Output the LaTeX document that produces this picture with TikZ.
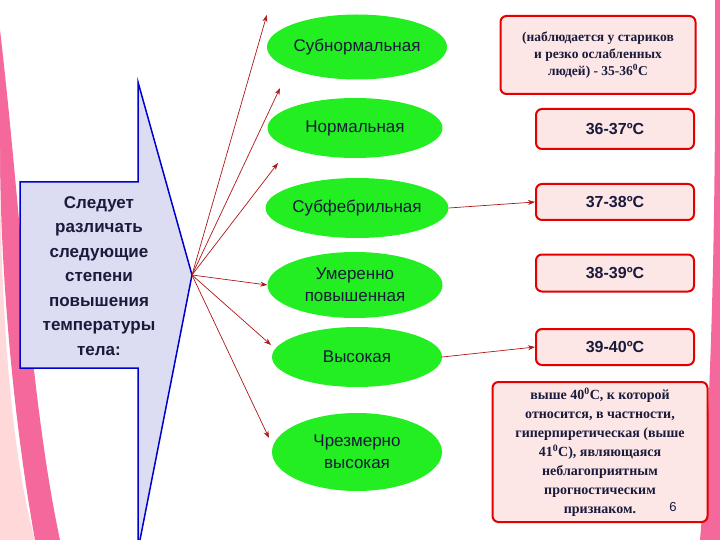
\documentclass[tikz,border=0pt]{standalone}
\usepackage{fontspec}
\setmainfont{Liberation Sans}
\newfontfamily\serifb{Liberation Serif}
\usetikzlibrary{shapes.geometric,arrows.meta}
\definecolor{grn}{HTML}{22EE22}
\definecolor{lav}{HTML}{DCDDF3}
\definecolor{pinkf}{HTML}{FCE6E6}
\definecolor{dred}{HTML}{B01818}
\definecolor{txt}{HTML}{1A1A3A}
\tikzset{
 ell/.style={ellipse,fill=grn,draw=none,minimum width=170pt,minimum height=62pt,align=center,font=\fontsize{17}{22}\selectfont,text=txt,inner sep=0pt},
 rbox/.style={draw=red!90!black,line width=2pt,rounded corners=6pt,fill=pinkf,align=center,text=txt,inner sep=2pt},
 arr/.style={-{Stealth[length=7pt,width=5pt]},dred,line width=0.7pt}
}
\begin{document}
\begin{tikzpicture}[x=1pt,y=-1pt]
\useasboundingbox (0,0) rectangle (720,540);
\fill[white] (0,0) rectangle (720,540);
% decorative pink bands
\fill[magenta!70!red!60] (0,30) .. controls (20,200) and (30,400) .. (60,540) -- (35,540) .. controls (10,400) and (0,250) .. (0,150) -- cycle;
\fill[pink!60] (0,150) .. controls (0,300) and (10,450) .. (35,540) -- (0,540) -- cycle;
\fill[magenta!70!red!60] (715,0) -- (720,0) -- (720,540) -- (700,540) .. controls (712,400) and (716,200) .. (715,0) -- cycle;
% big arrow
\draw[blue!80!black,line width=1.5pt,fill=lav] (20,182) -- (138,182) -- (138,82) -- (192,275) -- (138,550) -- (138,368) -- (20,368) -- cycle;
\node[align=center,text=txt,font=\bfseries\fontsize{17}{24.5}\selectfont] (src) at (99,276) {Следует\\различать\\следующие\\степени\\повышения\\температуры\\тела:};
\coordinate (tip) at (192,275);
% ellipses
\node[ell,minimum width=180pt,minimum height=65pt] (e1) at (357,47) {Субнормальная};
\node[ell,minimum width=175pt,minimum height=60pt] (e2) at (355,128) {Нормальная};
\node[ell,minimum width=180pt,minimum height=60pt] (e3) at (357,208) {Субфебрильная};
\node[ell,minimum width=175pt,minimum height=66pt] (e4) at (355,285) {Умеренно\\повышенная};
\node[ell,minimum width=170pt,minimum height=60pt] (e5) at (357,357) {Высокая};
\node[ell,minimum width=170pt,minimum height=78pt] (e6) at (357,452) {Чрезмерно\\высокая};
% boxes
\node[rbox,minimum width=195pt,minimum height=78pt,font=\serifb\bfseries\fontsize{13.5}{17}\selectfont] (b1) at (598,55) {(наблюдается у стариков\\и резко ослабленных\\людей) - 35-36\textsuperscript{0}С};
\node[rbox,minimum width=158pt,minimum height=40pt,font=\bfseries\fontsize{16}{18}\selectfont] (b2) at (615,129) {36-37ºС};
\node[rbox,minimum width=158pt,minimum height=36pt,font=\bfseries\fontsize{16}{18}\selectfont] (b3) at (615,202) {37-38ºС};
\node[rbox,minimum width=158pt,minimum height=37pt,font=\bfseries\fontsize{16}{18}\selectfont] (b4) at (615,273) {38-39ºС};
\node[rbox,minimum width=158pt,minimum height=36pt,font=\bfseries\fontsize{16}{18}\selectfont] (b5) at (615,347) {39-40ºС};
\node[rbox,minimum width=215pt,minimum height=140pt,font=\serifb\bfseries\fontsize{14}{19}\selectfont] (b6) at (600,452) {выше 40\textsuperscript{0}С, к которой\\относится, в частности,\\гиперпиретическая (выше\\41\textsuperscript{0}С), являющаяся\\неблагоприятным\\прогностическим\\признаком.};
\node[font=\fontsize{13}{14}\selectfont,text=txt] (pg) at (673,507) {6};
% arrows
\draw[arr] (tip) -- (e1.west |- 0,15) ;
\draw[arr] (tip) -- (280,88);
\draw[arr] (tip) -- (278,163);
\draw[arr] (tip) -- (e4.west);
\draw[arr] (tip) -- (271,345);
\draw[arr] (tip) -- (269,438);
\draw[arr] (e3.east) -- (b3.west);
\draw[arr] (e5.east) -- (b5.west);
\end{tikzpicture}
\end{document}
